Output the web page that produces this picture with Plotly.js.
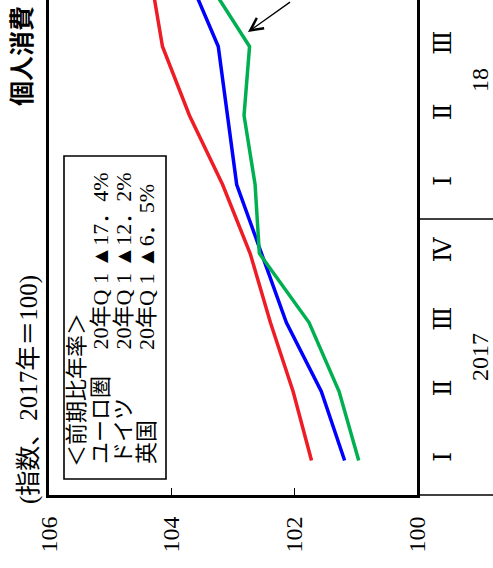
<!DOCTYPE html>
<html>
<head>
<meta charset="utf-8">
<script src="https://cdn.plot.ly/plotly-3.0.1.min.js"></script>
<style>html,body{margin:0;padding:0;background:#fff;}#chart{width:493px;height:568px;}</style>
</head>
<body>
<div id="chart"></div>
<script>
// ---- data ----
const categories = ['2017Q1','2017Q2','2017Q3','2017Q4','2018Q1','2018Q2','2018Q3','2018Q4'];
const quarterLabels = ['Ⅰ','Ⅱ','Ⅲ','Ⅳ','Ⅰ','Ⅱ','Ⅲ','Ⅳ'];
const yearLabels = ['2017','18'];
const valueTicks = [100, 102, 104, 106];
const seriesNames = ['ユーロ圏','ドイツ','英国'];
const seriesRates = ['20年Q 1 ▲17．4%','20年Q 1 ▲12．2%','20年Q 1 ▲6．5%'];
const euro    = [101.72, 102.02, 102.39, 102.72, 103.17, 103.71, 104.15, 104.34];
const germany = [101.18, 101.56, 102.13, 102.53, 102.94, 103.09, 103.24, 103.72];
const uk      = [100.95, 101.27, 101.76, 102.57, 102.64, 102.82, 102.73, 103.45];
const colors = ['#EE1C25', '#0000FF', '#00B050'];

const serif = 'Liberation Serif, Noto Sans CJK JP, serif';
const cjk = 'Liberation Serif, Noto Sans CJK JP, sans-serif';

const traces = [euro, germany, uk].map((v, i) => ({
  type: 'scatter', mode: 'lines', name: seriesNames[i],
  x: v, y: categories,
  line: {color: colors[i], width: 3.5}
}));

// geometry helpers (paper coords from pixel positions)
const L = 49, R = 417, B = 495, T = 0;
const px = x => (x - L) / (R - L);
const py = y => (B - y) / (B - T);

const annotations = [];
annotations.push({text: '＜前期比年率＞', x: px(76), y: py(469)});
[100, 123, 146].forEach((xc, i) => {
  annotations.push({text: seriesNames[i], x: px(xc), y: py(466)});
  annotations.push({text: seriesRates[i], x: px(xc), y: py(352)});
});
const legendAnns = annotations.map(a => Object.assign(a, {
  xref: 'paper', yref: 'paper', xanchor: 'center', yanchor: 'bottom',
  textangle: -90, showarrow: false, font: {family: cjk, size: 22, color: '#000'}
}));

const others = [
  {text: '(指数、2017年＝100)', x: px(29.5), y: py(505), xanchor: 'center', yanchor: 'bottom',
   font: {family: cjk, size: 25, color: '#000'}},
  {text: '<b>個人消費</b>', x: px(20), y: py(56), xanchor: 'center', yanchor: 'middle',
   font: {family: 'Noto Sans CJK JP, sans-serif', size: 25, color: '#000'}},
  {text: yearLabels[0], x: px(480), y: py(357), xanchor: 'center', yanchor: 'middle',
   font: {family: serif, size: 24, color: '#000'}},
  {text: yearLabels[1], x: px(480), y: py(80), xanchor: 'center', yanchor: 'middle',
   font: {family: serif, size: 24, color: '#000'}}
].map(a => Object.assign(a, {xref: 'paper', yref: 'paper', textangle: -90, showarrow: false, borderpad: 0}));

const arrow = {
  xref: 'paper', yref: 'paper', x: px(248), y: py(32), text: ' ',
  showarrow: true, arrowhead: 5, arrowsize: 1.9, arrowwidth: 1.3, arrowcolor: '#000',
  ax: 45, ay: -45, standoff: 0
};

const shapes = [
  {type: 'rect', xref: 'paper', yref: 'paper', x0: px(64), x1: px(166), y0: py(479), y1: py(156),
   line: {color: '#000', width: 1.6}, fillcolor: 'rgba(0,0,0,0)'},
  {type: 'line', xref: 'paper', yref: 'paper', x0: 1, x1: px(493), y0: py(495), y1: py(495),
   line: {color: '#000', width: 1.5}},
  {type: 'line', xref: 'paper', yref: 'paper', x0: 1, x1: px(493), y0: py(219), y1: py(219),
   line: {color: '#000', width: 1.5}}
];

const layout = {
  width: 493, height: 568,
  margin: {l: L, r: 493 - R, t: T, b: 568 - B, pad: 0},
  paper_bgcolor: '#fff', plot_bgcolor: '#fff',
  showlegend: false,
  xaxis: {
    range: [106, 100], tickvals: valueTicks, ticktext: valueTicks.map(String),
    ticks: 'inside', ticklen: 7, tickwidth: 1.2, tickcolor: '#000',
    tickangle: -90, ticklabelstandoff: 9,
    tickfont: {family: serif, size: 24, color: '#000'},
    showline: true, linecolor: '#000', linewidth: 3, mirror: false,
    showgrid: false, zeroline: false
  },
  yaxis: {
    type: 'category', categoryarray: categories, range: [-0.5, -0.5 + 495 / 69],
    tickvals: categories, ticktext: quarterLabels, side: 'right',
    ticks: '', tickangle: -90, ticklabelstandoff: 1,
    tickfont: {family: 'DejaVu Serif, Liberation Serif, serif', size: 25, color: '#000'},
    showline: true, linecolor: '#000', linewidth: 3, mirror: true,
    showgrid: false, zeroline: false
  },
  annotations: legendAnns.concat(others, [arrow]),
  shapes: shapes
};

Plotly.newPlot('chart', traces, layout, {staticPlot: true, displayModeBar: false});
</script>
</body>
</html>
